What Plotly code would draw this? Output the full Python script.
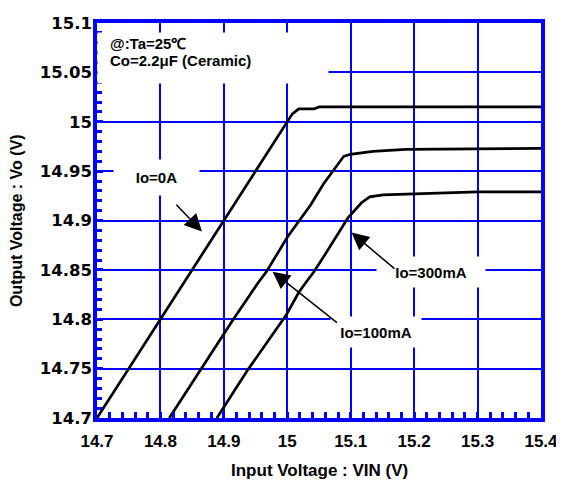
import plotly.graph_objects as go

# ---- data ----
vin_0a = [14.700, 15.000, 15.008, 15.018, 15.042, 15.050, 15.100, 15.200, 15.300, 15.400]
vo_0a = [14.700, 15.000, 15.008, 15.013, 15.013, 15.015, 15.015, 15.015, 15.015, 15.015]

vin_100ma = [14.814, 14.863, 14.915, 14.954, 14.967, 15.000, 15.037, 15.057, 15.089, 15.099,
             15.135, 15.187, 15.300, 15.400]
vo_100ma = [14.700, 14.749, 14.800, 14.837, 14.848, 14.883, 14.916, 14.937, 14.965, 14.967,
            14.970, 14.972, 14.9726, 14.973]

vin_300ma = [14.889, 14.938, 14.998, 15.018, 15.029, 15.042, 15.062, 15.070, 15.096, 15.117,
             15.130, 15.151, 15.187, 15.200, 15.300, 15.400]
vo_300ma = [14.700, 14.749, 14.804, 14.827, 14.837, 14.848, 14.868, 14.876, 14.903, 14.918,
            14.924, 14.926, 14.927, 14.927, 14.929, 14.929]

x_tickvals = [14.7, 14.8, 14.9, 15.0, 15.1, 15.2, 15.3, 15.4]
x_ticktext = ["14.7", "14.8", "14.9", "15", "15.1", "15.2", "15.3", "15.4"]
y_tickvals = [14.7, 14.75, 14.8, 14.85, 14.9, 14.95, 15.0, 15.05, 15.1]
y_ticktext = ["14.7", "14.75", "14.8", "14.85", "14.9", "14.95", "15", "15.05", "15.1"]

curve_labels = ["Io=0A", "Io=100mA", "Io=300mA"]
condition_lines = ["@:Ta=25℃", "Co=2.2μF (Ceramic)"]

BLUE = "#0000FF"
ARIAL = "Liberation Sans, Arial, sans-serif"

fig = go.Figure()
for vin, vo, name in [(vin_0a, vo_0a, curve_labels[0]),
                      (vin_100ma, vo_100ma, curve_labels[1]),
                      (vin_300ma, vo_300ma, curve_labels[2])]:
    fig.add_trace(go.Scatter(x=vin, y=vo, mode="lines", name=name,
                             line=dict(color="black", width=2.7),
                             showlegend=False, hoverinfo="skip"))

# the page body adds an 8px margin, so the figure is offset by 8px
fig.update_layout(
    width=556, height=479,
    margin=dict(l=89, r=17, t=6, b=69),
    plot_bgcolor="white", paper_bgcolor="white",
    showlegend=False,
)

fig.update_xaxes(
    range=[14.7, 15.4], tickmode="array", tickvals=x_tickvals, ticktext=x_ticktext,
    showgrid=True, gridcolor=BLUE, gridwidth=1.5,
    showline=True, linecolor=BLUE, linewidth=3.5, mirror=True,
    ticks="inside", ticklen=6, tickwidth=2.5, tickcolor=BLUE,
    minor=dict(dtick=0.02, tick0=14.7, ticks="inside", ticklen=6, tickwidth=2.5,
               tickcolor=BLUE, showgrid=False),
    tickfont=dict(family=ARIAL, size=17, color="black", weight="bold"),
    ticklabelstandoff=5, ticklabeloverflow="allow", zeroline=False,
)
fig.update_yaxes(
    range=[14.7, 15.1], tickmode="array", tickvals=y_tickvals, ticktext=y_ticktext,
    showgrid=True, gridcolor=BLUE, gridwidth=1.5,
    showline=True, linecolor=BLUE, linewidth=3.5, mirror=True,
    ticks="inside", ticklen=6, tickwidth=2.5, tickcolor=BLUE,
    minor=dict(dtick=0.01, tick0=14.7, ticks="inside", ticklen=5, tickwidth=2.5,
               tickcolor=BLUE, showgrid=False),
    tickfont=dict(family="DejaVu Sans, Verdana, sans-serif", size=16.5, color="black",
                  weight="bold"),
    ticklabelstandoff=-2, ticklabeloverflow="allow", zeroline=False,
)

lab_font = dict(family=ARIAL, size=15, color="black", weight="bold")
cond_font = dict(family=ARIAL, size=15, color="black", weight="bold")
annotations = [
    # white box behind condition text
    dict(xref="paper", yref="paper", x=0, y=0.9777, xanchor="left", yanchor="top",
         text="&nbsp;", showarrow=False, bgcolor="white", width=230, height=50, borderpad=0),
    dict(xref="paper", yref="paper", x=0.0244, y=0.948, xanchor="left", yanchor="middle",
         text=condition_lines[0], showarrow=False, font=cond_font),
    dict(xref="paper", yref="paper", x=0.0244, y=0.906, xanchor="left", yanchor="middle",
         text=condition_lines[1], showarrow=False, font=cond_font),
    # curve labels
    dict(x=14.7941, y=14.9401, text=curve_labels[0], showarrow=False, bgcolor="white",
         width=85, height=35, borderpad=0, font=lab_font, yshift=3),
    dict(x=15.2273, y=14.8446, text=curve_labels[2], showarrow=False, bgcolor="white",
         width=108, height=30, borderpad=0, font=lab_font, yshift=3),
    dict(x=15.1402, y=14.7842, text=curve_labels[1], showarrow=False, bgcolor="white",
         width=90, height=30, borderpad=0, font=lab_font, yshift=3),
    # arrows
    dict(x=14.8654, y=14.8888, ax=14.8229, ay=14.9175, axref="x", ayref="y",
         text="", showarrow=True, arrowhead=2, arrowsize=2.3, arrowwidth=1.5, arrowcolor="black"),
    dict(x=15.1013, y=14.8878, ax=15.1713, ay=14.8500, axref="x", ayref="y",
         text="", showarrow=True, arrowhead=2, arrowsize=2.3, arrowwidth=1.5, arrowcolor="black"),
    dict(x=14.9769, y=14.8482, ax=15.0806, ay=14.7954, axref="x", ayref="y",
         text="", showarrow=True, arrowhead=2, arrowsize=2.3, arrowwidth=1.5, arrowcolor="black"),
    # axis titles
    dict(xref="paper", yref="paper", x=0.5, y=-0.1337, xanchor="center", yanchor="middle",
         text="Input Voltage : VIN (V)", showarrow=False,
         font=dict(family=ARIAL, size=17, color="black", weight="bold")),
    dict(xref="paper", yref="paper", x=-0.1811, y=0.5, xanchor="center", yanchor="middle",
         text="Output Voltage : Vo (V)", showarrow=False, textangle=-90,
         font=dict(family=ARIAL, size=16, color="black", weight="bold")),
]
fig.update_layout(annotations=annotations)

fig.write_html("out.html")
